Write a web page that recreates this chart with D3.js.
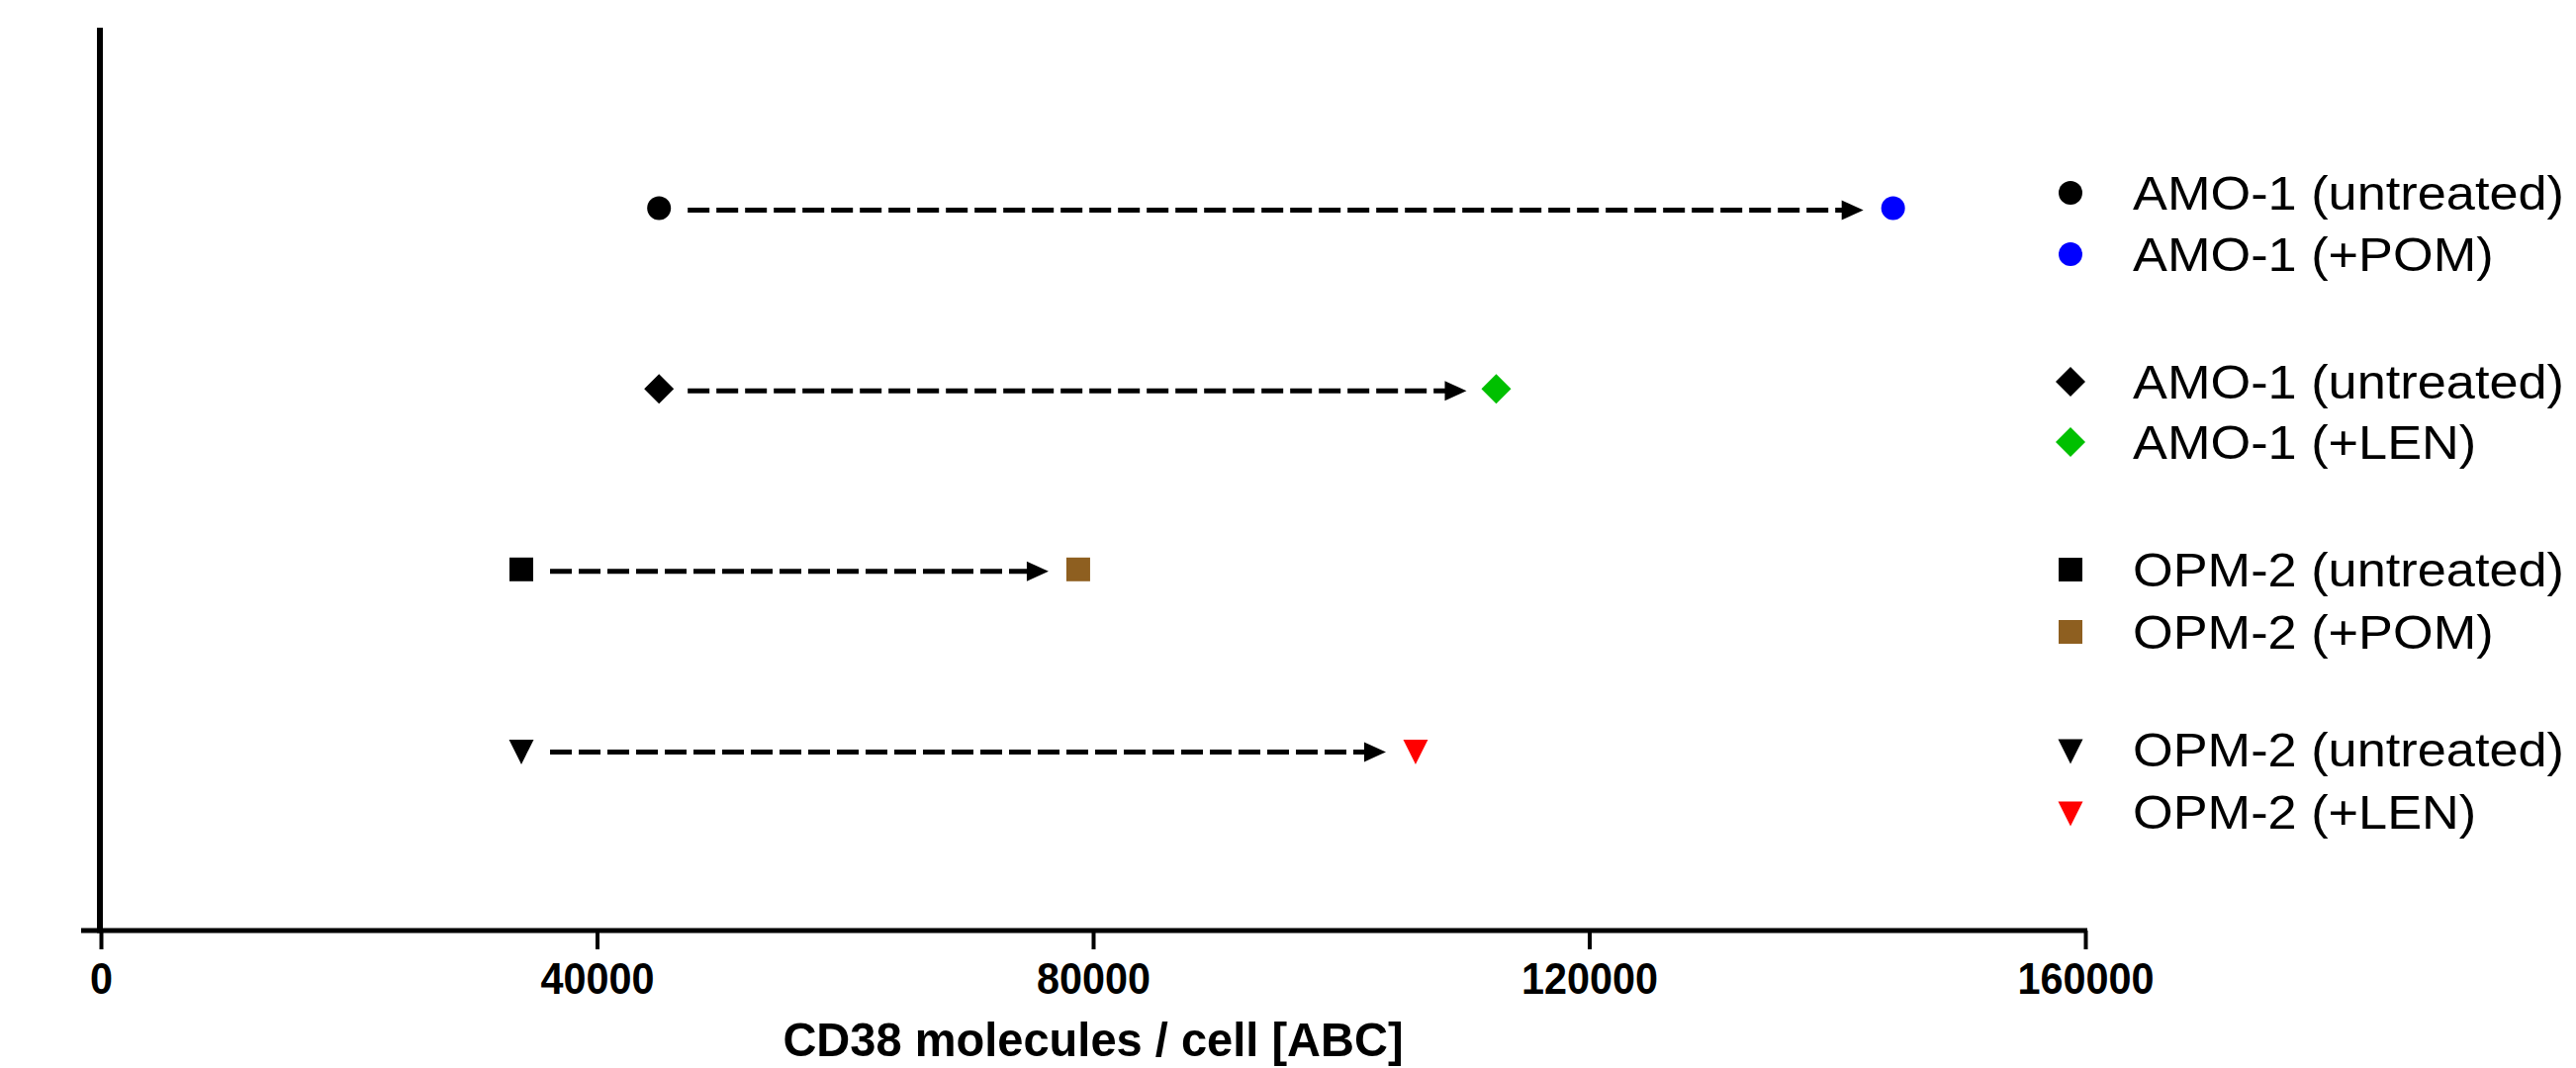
<!DOCTYPE html>
<html>
<head>
<meta charset="utf-8">
<script src="https://cdn.jsdelivr.net/npm/d3@7"></script>
<style>
  html, body { margin: 0; padding: 0; background: #fff; }
  svg { display: block; }
</style>
</head>
<body>
<svg id="chart" width="2604" height="1080"></svg>
<script>
// ---- data ----
const rowNames = ["AMO-1 POM", "AMO-1 LEN", "OPM-2 POM", "OPM-2 LEN"];
const rowPos = [4, 3, 2, 1];
const untreated = [45000, 45000, 33900, 33900];
const treated = [144500, 112500, 78800, 106000];
const shapes = ["circle", "diamond", "square", "triangleDown"];
const treatedColors = ["#0000FF", "#00C000", "#8E5F20", "#FF0000"];
const legendLabels = [
  "AMO-1 (untreated)", "AMO-1 (+POM)",
  "AMO-1 (untreated)", "AMO-1 (+LEN)",
  "OPM-2 (untreated)", "OPM-2 (+POM)",
  "OPM-2 (untreated)", "OPM-2 (+LEN)"
];
const legendShapes = ["circle", "circle", "diamond", "diamond", "square", "square", "triangleDown", "triangleDown"];
const legendColors = ["#000000", "#0000FF", "#000000", "#00C000", "#000000", "#8E5F20", "#000000", "#FF0000"];
const legendRowY = [195, 257, 386, 447, 576, 639, 758, 821];
const xTicks = [0, 40000, 80000, 120000, 160000];
const xTitle = "CD38 molecules / cell [ABC]";

// ---- setup ----
const svg = d3.select("#chart");
svg.append("rect").attr("width", 2604).attr("height", 1080).attr("fill", "#fff");

const x = d3.scaleLinear().domain([0, 160000]).range([102, 2108]);
const y = d3.scaleLinear().domain([0, 5]).range([941, 28]);

const FONT = "'Liberation Sans', Arial, Helvetica, sans-serif";

// symbol types
const symbolTypes = {
  circle: { draw(ctx, s) { const r = s; ctx.moveTo(r, 0); ctx.arc(0, 0, r, 0, 2 * Math.PI); } },
  diamond: { draw(ctx, s) { const h = s * 1.25; ctx.moveTo(0, -h); ctx.lineTo(h, 0); ctx.lineTo(0, h); ctx.lineTo(-h, 0); ctx.closePath(); } },
  square: { draw(ctx, s) { ctx.rect(-s, -s, 2 * s, 2 * s); } },
  triangleDown: { draw(ctx, s) { const w = s * 1.04, h = s * 1.04; ctx.moveTo(-w, -h + 2); ctx.lineTo(w, -h + 2); ctx.lineTo(0, h + 2); ctx.closePath(); } }
};
const sym = (shape) => d3.symbol().type(symbolTypes[shape]).size(12)();

// ---- axes ----
svg.append("line")
  .attr("x1", x(0) - 1).attr("x2", x(0) - 1)
  .attr("y1", y(5)).attr("y2", y(0) + 2.5)
  .attr("stroke", "#000").attr("stroke-width", 6);

const xAxis = d3.axisBottom(x).tickValues(xTicks).tickSize(19).tickSizeOuter(0).tickPadding(13)
  .tickFormat(d3.format("d"));
const gx = svg.append("g").attr("transform", `translate(0,${y(0)})`).call(xAxis);
gx.select(".domain").remove();
gx.selectAll(".tick line").attr("stroke", "#000").attr("stroke-width", 4);
gx.selectAll(".tick text")
  .attr("fill", "#000")
  .attr("font-family", FONT)
  .attr("font-weight", "bold")
  .attr("font-size", 45)
  .attr("transform", "scale(0.92,1)");
svg.append("line")
  .attr("x1", x(0) - 20).attr("x2", x(160000) + 2)
  .attr("y1", y(0)).attr("y2", y(0))
  .attr("stroke", "#000").attr("stroke-width", 5);

// X axis title
const titleX = (x(0) + x(160000)) / 2;
svg.append("text")
  .attr("transform", `translate(${titleX},1068) scale(0.96,1)`)
  .attr("text-anchor", "middle")
  .attr("font-family", FONT)
  .attr("font-weight", "bold")
  .attr("font-size", 49)
  .attr("fill", "#000")
  .text(xTitle);

// ---- arrows ----
const arrowStartGap = 29, arrowTipGap = 30, headLen = 22, headHalf = 10;
const rows = rowNames.map((n, i) => ({ name: n, pos: rowPos[i], u: untreated[i], t: treated[i], shape: shapes[i], color: treatedColors[i] }));

const ga = svg.append("g");
ga.selectAll("line.shaft").data(rows).join("line")
  .attr("class", "shaft")
  .attr("x1", d => x(d.u) + arrowStartGap)
  .attr("x2", d => x(d.t) - arrowTipGap - headLen + 2)
  .attr("y1", d => y(d.pos) + 2).attr("y2", d => y(d.pos) + 2)
  .attr("stroke", "#000").attr("stroke-width", 5)
  .attr("stroke-dasharray", "22,7");
ga.selectAll("path.head").data(rows).join("path")
  .attr("class", "head")
  .attr("d", d => {
    const tip = x(d.t) - arrowTipGap, cy = y(d.pos) + 2;
    return `M${tip},${cy} L${tip - headLen},${cy - headHalf} L${tip - headLen},${cy + headHalf} Z`;
  })
  .attr("fill", "#000");

// ---- markers ----
const gm = svg.append("g");
gm.selectAll("path.u").data(rows).join("path")
  .attr("class", "u")
  .attr("transform", d => `translate(${x(d.u)},${y(d.pos)})`)
  .attr("d", d => sym(d.shape))
  .attr("fill", "#000");
gm.selectAll("path.t").data(rows).join("path")
  .attr("class", "t")
  .attr("transform", d => `translate(${x(d.t)},${y(d.pos)})`)
  .attr("d", d => sym(d.shape))
  .attr("fill", d => d.color);

// ---- legend ----
const legendMarkerX = 2093, legendTextX = 2156;
const gl = svg.append("g");
const items = legendLabels.map((l, i) => ({ label: l, shape: legendShapes[i], color: legendColors[i], y: legendRowY[i] }));
gl.selectAll("path").data(items).join("path")
  .attr("transform", d => `translate(${legendMarkerX},${d.y})`)
  .attr("d", d => sym(d.shape))
  .attr("fill", d => d.color);
gl.selectAll("text").data(items).join("text")
  .attr("transform", d => `translate(${legendTextX},${d.y + 17}) scale(1.09,1)`)
  .attr("font-family", FONT)
  .attr("font-size", 48)
  .attr("fill", "#000")
  .text(d => d.label);
</script>
</body>
</html>
